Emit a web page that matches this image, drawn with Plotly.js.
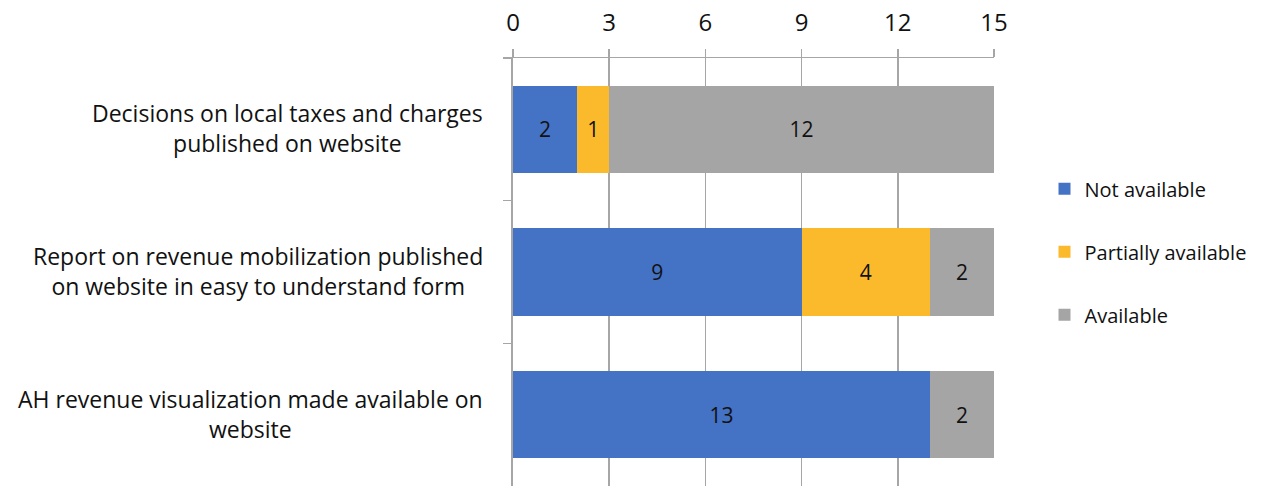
<!DOCTYPE html>
<html>
<head>
<meta charset="utf-8">
<script src="https://cdn.plot.ly/plotly-3.0.1.min.js"></script>
<style>
  html, body { margin: 0; padding: 0; background: #fff; }
  #chart { width: 1279px; height: 486px; }
</style>
</head>
<body>
<div id="chart"></div>
<script>
// Website disclosure status, count of units per item
const items = [
  "Decisions on local taxes and charges<br>published on website",
  "Report on revenue mobilization published<br>on website in easy to understand form",
  "AH revenue visualization made available on<br>website"
];
const seriesNames = ["Not available", "Partially available", "Available"];
const notAvailable = [2, 9, 13];
const partiallyAvailable = [1, 4, 0];
const available = [12, 2, 2];
const xTicks = [0, 3, 6, 9, 12, 15];

const colors = ["#4472C4", "#FBBA2C", "#A5A5A5"];
const seriesValues = [notAvailable, partiallyAvailable, available];
const FONT = "'Open Sans', Lato, sans-serif";
const TEXT = "#111";

const traces = seriesValues.map((vals, i) => ({
  type: "bar",
  orientation: "h",
  name: seriesNames[i],
  legendgroup: "g" + i,
  y: items,
  x: vals,
  text: vals.map(v => (v ? String(v) : "")),
  textposition: "inside",
  insidetextanchor: "middle",
  textangle: 0,
  constraintext: "none",
  textfont: { family: FONT, size: 21, color: TEXT },
  marker: { color: colors[i] },
  hoverinfo: "x+name"
}));

// Category labels drawn as centred, multi-line annotations left of the axis
const labelAnnotations = items.map(t => ({
  xref: "paper", yref: "y",
  x: 0, y: t,
  xanchor: "right", yanchor: "middle",
  xshift: -28,
  yshift: 1,
  text: t,
  align: "center",
  showarrow: false,
  font: { family: FONT, size: 23, color: TEXT }
}));

const layout = {
  width: 1279,
  height: 486,
  margin: { l: 513, r: 285, t: 58, b: 0 },
  paper_bgcolor: "#fff",
  plot_bgcolor: "#fff",
  barmode: "stack",
  bargap: 0.39,
  font: { family: FONT, size: 21, color: TEXT },
  xaxis: {
    side: "top",
    range: [0, 15],
    tickvals: xTicks,
    ticktext: xTicks.map(String),
    showgrid: true,
    gridcolor: "#A6A6A6",
    gridwidth: 1.5,
    showline: true,
    linecolor: "#A6A6A6",
    linewidth: 1.5,
    ticks: "outside",
    ticklen: 8,
    tickcolor: "#A6A6A6",
    tickwidth: 1.5,
    zeroline: false,
    ticklabelstandoff: 8,
    tickfont: { family: FONT, size: 24, color: TEXT },
    fixedrange: true
  },
  yaxis: {
    type: "category",
    categoryorder: "array",
    categoryarray: items,
    autorange: "reversed",
    showticklabels: false,
    tickson: "boundaries",
    ticks: "outside",
    ticklen: 8,
    tickcolor: "#A6A6A6",
    tickwidth: 1.5,
    showline: true,
    linecolor: "#A6A6A6",
    linewidth: 2,
    showgrid: false,
    zeroline: false,
    fixedrange: true
  },
  legend: {
    x: 1.105, xref: "paper",
    xanchor: "left",
    y: 0.74, yanchor: "top",
    traceorder: "grouped",
    tracegroupgap: 34,
    font: { family: FONT, size: 20, color: TEXT },
    bgcolor: "rgba(0,0,0,0)",
    itemwidth: 30
  },
  annotations: labelAnnotations,
  showlegend: true
};

Plotly.newPlot("chart", traces, layout, { displayModeBar: false, staticPlot: true });
</script>
</body>
</html>
